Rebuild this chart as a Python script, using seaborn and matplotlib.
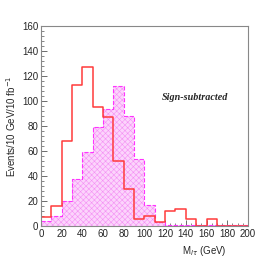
import numpy as np
import matplotlib
matplotlib.use('Agg')
import matplotlib.pyplot as plt
import seaborn as sns
from matplotlib.ticker import MultipleLocator

# dati (bin da 10 GeV)
bin_edges = list(range(0, 210, 10))
red_counts = [7, 16, 68, 113, 127, 95, 87, 52, 30, 6,
              8, 3, 12, 14, 6, 0, 6, 0, 0, 0]
magenta_counts = [4, 8, 20, 38, 59, 79, 94, 112, 88, 54,
                  17, 3, 1, 1, 1, 1, 1, 1, 1, 1]
centers = [e + 5 for e in bin_edges[:-1]]

sns.set_theme(style="white")
plt.rcParams['font.family'] = ['Liberation Sans', 'DejaVu Sans']
plt.rcParams['hatch.linewidth'] = 0.4

fig = plt.figure(figsize=(2.77, 2.66), dpi=100)
ax = fig.add_axes([0.148, 0.150, 0.747, 0.752])

# riempimento magenta con trama fine
sns.histplot(x=centers, weights=magenta_counts, bins=bin_edges, element="step",
             fill=True, facecolor='#fcd4fc', edgecolor='#f490f4', hatch='xxxxxx',
             linewidth=0, alpha=1, ax=ax)
# contorno magenta tratteggiato
sns.histplot(x=centers, weights=magenta_counts, bins=bin_edges, element="step",
             fill=False, color='#ff33ff', linestyle='--', linewidth=0.8, ax=ax)
# istogramma rosso
sns.histplot(x=centers, weights=red_counts, bins=bin_edges, element="step",
             fill=False, color='#ff3b3b', linewidth=1.1, ax=ax)

ax.set_xlim(0, 200)
ax.set_ylim(0, 160)
ax.xaxis.set_major_locator(MultipleLocator(20))
ax.xaxis.set_minor_locator(MultipleLocator(5))
ax.yaxis.set_major_locator(MultipleLocator(20))
ax.yaxis.set_minor_locator(MultipleLocator(4))
ax.tick_params(which='both', direction='in', labelsize=7, color='#555555', pad=2)
ax.tick_params(which='major', length=4, width=0.6)
ax.tick_params(which='minor', length=2, width=0.5)
ax.tick_params(axis='x', which='both', bottom=True)
ax.tick_params(axis='y', which='both', left=True)
for s in ax.spines.values():
    s.set_color('#888888')
    s.set_linewidth(0.8)

ax.set_ylabel('Events/10 GeV/10 fb$^{-1}$', fontsize=7, labelpad=3)
ax.set_xlabel(r'M$_{l\tau}$ (GeV)', fontsize=7)
ax.xaxis.set_label_coords(0.79, -0.09)
ax.text(117, 101, 'Sign-subtracted', fontsize=7.3, fontweight='bold',
        fontstyle='italic', family='Liberation Serif')

fig.savefig('out.png', dpi=100)
